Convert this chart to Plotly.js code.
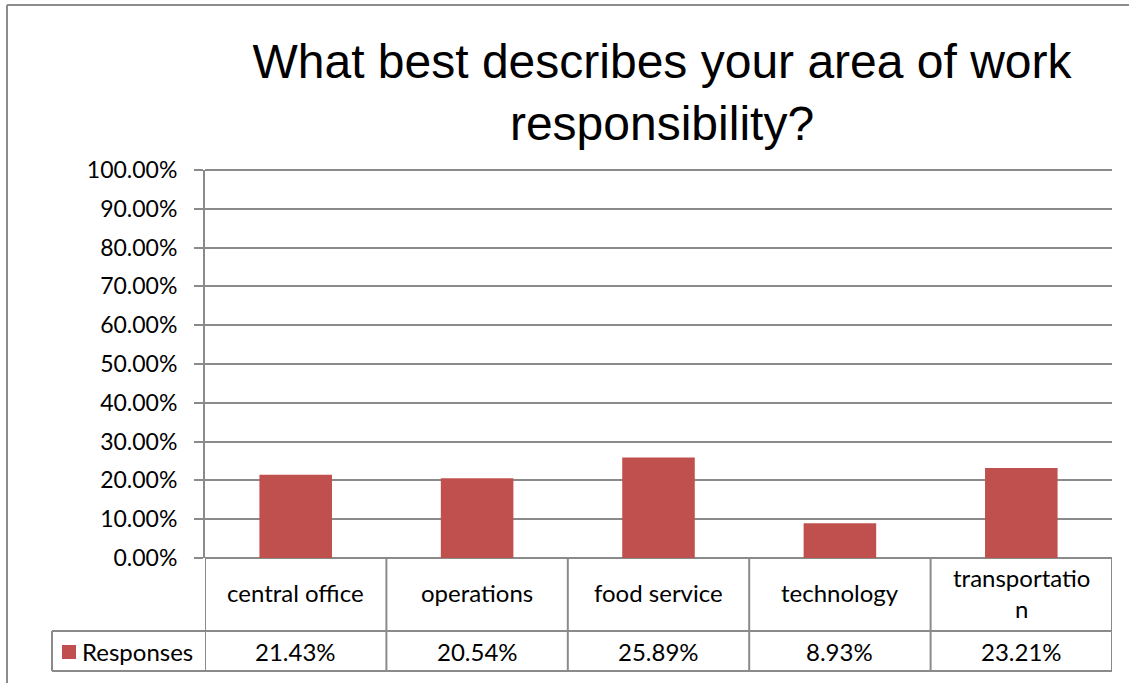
<!DOCTYPE html>
<html>
<head>
<meta charset="utf-8">
<script src="https://cdn.plot.ly/plotly-3.0.1.min.js"></script>
<style>html,body{margin:0;padding:0;background:#fff;}#chart{width:1129px;height:683px;}</style>
</head>
<body>
<div id="chart"></div>
<script>
const categories = ['central office', 'operations', 'food service', 'technology', 'transportation'];
const categoryLabels = ['central office', 'operations', 'food service', 'technology', 'transportatio<br>n'];
const seriesName = 'Responses';
const responses = [0.2143, 0.2054, 0.2589, 0.0893, 0.2321];
const yTicks = [0, 0.1, 0.2, 0.3, 0.4, 0.5, 0.6, 0.7, 0.8, 0.9, 1.0];

const barColor = '#C0504D';
const lineColor = '#8a8a8a';
const textFont = 'Lato, "Open Sans", sans-serif';

const trace = {
  type: 'bar',
  x: categories.map((c, i) => i),
  y: responses,
  width: 0.4,
  marker: {color: barColor, line: {width: 0}},
  name: seriesName,
  hoverinfo: 'skip'
};

const n = categories.length;
const yMax = yTicks[yTicks.length - 1];
const row1 = -73 / 388;   // bottom of category row (paper units)
const row2 = -113 / 388;  // bottom of value row
const legendLeft = -153 / 907;

const shapes = [];
const ln = {color: lineColor, width: 2};
// top gridline (100%) drawn at the top edge of the plot area (unclipped)
shapes.push({type: 'line', xref: 'paper', yref: 'paper', x0: 0, x1: 1, y0: 1, y1: 1, line: ln});
shapes.push({type: 'line', xref: 'x', yref: 'paper', x0: -0.5, x1: n - 0.5, y0: row1, y1: row1, line: ln});
shapes.push({type: 'line', xref: 'x', yref: 'paper', x0: -0.5, x1: n - 0.5, y0: row2, y1: row2, line: ln});
for (let i = 0; i <= n; i++) {
  shapes.push({type: 'line', xref: 'x', yref: 'paper', x0: i - 0.5, x1: i - 0.5, y0: 0, y1: row2, line: ln});
}
shapes.push({type: 'line', xref: 'paper', yref: 'paper', x0: legendLeft, x1: 0, y0: row1, y1: row1, line: ln});
shapes.push({type: 'line', xref: 'paper', yref: 'paper', x0: legendLeft, x1: 0, y0: row2, y1: row2, line: ln});
shapes.push({type: 'line', xref: 'paper', yref: 'paper', x0: legendLeft, x1: legendLeft, y0: row1, y1: row2, line: ln});
shapes.push({type: 'rect', xref: 'paper', yref: 'paper',
  x0: (62 - 205) / 907, x1: (76 - 205) / 907, y0: (558 - 645) / 388, y1: (558 - 659) / 388,
  fillcolor: barColor, line: {width: 0}});
shapes.push({type: 'line', xref: 'paper', yref: 'paper', x0: -198 / 907, x1: -198 / 907, y0: -0.5, y1: 553 / 388, line: {color: '#8c8c8c', width: 2}});
shapes.push({type: 'line', xref: 'paper', yref: 'paper', x0: -198 / 907, x1: 1.2, y0: 553 / 388, y1: 553 / 388, line: {color: '#8c8c8c', width: 2}});

const annotations = [];
categories.forEach((c, i) => {
  annotations.push({xref: 'x', yref: 'paper', x: i, y: (row1) / 2 + 2 / 388, text: categoryLabels[i],
    showarrow: false, font: {family: textFont, size: 24, color: '#000'}, xanchor: 'center', yanchor: 'middle'});
  annotations.push({xref: 'x', yref: 'paper', x: i, y: (row1 + row2) / 2, text: (responses[i] * 100).toFixed(2) + '%',
    showarrow: false, font: {family: textFont, size: 24, color: '#000'}, xanchor: 'center', yanchor: 'middle'});
});
annotations.push({xref: 'paper', yref: 'paper', x: (80 - 205) / 907, y: (row1 + row2) / 2, text: seriesName,
  showarrow: false, font: {family: textFont, size: 24, color: '#000'}, xanchor: 'left', yanchor: 'middle'});

const layout = {
  width: 1129, height: 683,
  margin: {l: 205, r: 17, t: 170, b: 125},
  paper_bgcolor: '#fff', plot_bgcolor: '#fff',
  showlegend: false,
  title: {
    text: 'What best describes your area of work<br>responsibility?',
    font: {family: '"Liberation Sans", Arial, sans-serif', size: 48, color: '#000'},
    x: (662 - 205) / 907, xref: 'paper', xanchor: 'center',
    y: 1 - 78 / 683, yref: 'container', yanchor: 'middle'
  },
  xaxis: {
    range: [-0.5, n - 0.5], showticklabels: false, showgrid: false, zeroline: false,
    showline: false, ticks: '', fixedrange: true
  },
  yaxis: {
    range: [0, yMax], tickvals: yTicks, tickformat: '.2%',
    showgrid: true, gridcolor: lineColor, gridwidth: 2,
    zeroline: true, zerolinecolor: lineColor, zerolinewidth: 2,
    showline: true, linecolor: lineColor, linewidth: 2,
    ticks: 'outside', ticklen: 9, tickcolor: lineColor, tickwidth: 2,
    ticklabelstandoff: 12,
    tickfont: {family: textFont, size: 23, color: '#000'}, fixedrange: true
  },
  shapes: shapes,
  annotations: annotations
};

Plotly.newPlot('chart', [trace], layout, {displayModeBar: false, staticPlot: true});
</script>
</body>
</html>
